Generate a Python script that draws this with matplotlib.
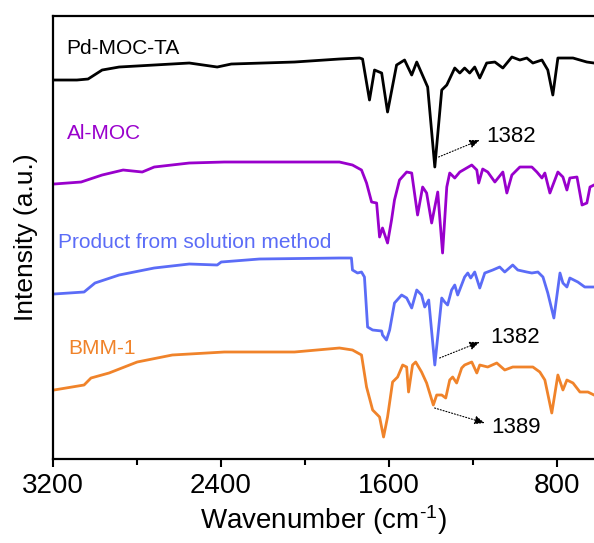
import matplotlib
matplotlib.use("Agg")
import matplotlib.pyplot as plt
from matplotlib.ticker import MultipleLocator

plt.rcParams['font.family'] = ['Liberation Sans', 'DejaVu Sans']
plt.rcParams['mathtext.default'] = 'regular'

# FTIR spectra, stacked (a.u.)
wn_pd = [3195, 3086, 3033, 2966, 2885, 2718, 2551, 2418, 2351, 2050, 1836, 1740, 1726, 1693, 1669,
         1635, 1607, 1564, 1526, 1492, 1468, 1416, 1382, 1349, 1325, 1287, 1263, 1240, 1216, 1192,
         1168, 1135, 1096, 1058, 1015, 977, 944, 915, 872, 844, 820, 796, 724, 658, 624]
pd_mic = [3.79, 3.79, 3.80, 3.89, 3.92, 3.94, 3.96, 3.92, 3.95, 3.97, 4.00, 4.01, 4.00, 3.59, 3.89,
          3.86, 3.47, 3.94, 3.99, 3.84, 3.97, 3.72, 2.92, 3.69, 3.74, 3.91, 3.86, 3.91, 3.86, 3.92,
          3.81, 3.96, 3.97, 3.91, 4.02, 3.99, 4.01, 3.96, 3.99, 3.89, 3.64, 4.01, 4.01, 3.97, 3.96]

wn_al = [3195, 3066, 2966, 2866, 2775, 2718, 2551, 2384, 2050, 1836, 1774, 1731, 1707, 1683, 1659,
         1645, 1631, 1607, 1588, 1574, 1550, 1516, 1492, 1464, 1440, 1421, 1397, 1368, 1345, 1325,
         1311, 1287, 1263, 1206, 1182, 1173, 1154, 1130, 1096, 1058, 1039, 1015, 977, 920, 896,
         872, 858, 834, 796, 772, 753, 739, 705, 681, 658, 643, 624]
al_moc = [2.75, 2.77, 2.84, 2.89, 2.87, 2.92, 2.96, 2.97, 2.97, 2.97, 2.94, 2.89, 2.76, 2.57, 2.56,
          2.22, 2.31, 2.16, 2.39, 2.59, 2.79, 2.87, 2.86, 2.44, 2.72, 2.66, 2.36, 2.67, 2.06, 2.72,
          2.86, 2.81, 2.87, 2.94, 2.89, 2.76, 2.90, 2.87, 2.77, 2.87, 2.66, 2.84, 2.92, 2.92, 2.87,
          2.81, 2.86, 2.66, 2.87, 2.82, 2.69, 2.81, 2.82, 2.54, 2.56, 2.72, 2.74]

wn_sol = [3195, 3052, 3000, 2885, 2718, 2551, 2418, 2399, 2217, 1836, 1779, 1774, 1750, 1731, 1717,
          1702, 1678, 1635, 1631, 1612, 1597, 1574, 1540, 1516, 1492, 1468, 1445, 1430, 1411, 1382,
          1349, 1335, 1321, 1302, 1287, 1273, 1240, 1225, 1211, 1192, 1168, 1144, 1106, 1073, 1049,
          1011, 987, 944, 920, 891, 867, 844, 815, 786, 772, 753, 739, 701, 668, 624]
solution = [1.65, 1.67, 1.76, 1.84, 1.91, 1.95, 1.94, 1.97, 2.00, 2.01, 2.01, 1.89, 1.86, 1.87, 1.82,
            1.32, 1.29, 1.28, 1.24, 1.19, 1.29, 1.56, 1.64, 1.61, 1.51, 1.69, 1.64, 1.52, 1.59, 0.94,
            1.61, 1.57, 1.54, 1.69, 1.74, 1.64, 1.82, 1.86, 1.81, 1.87, 1.71, 1.86, 1.89, 1.92, 1.87,
            1.94, 1.89, 1.87, 1.86, 1.87, 1.82, 1.66, 1.41, 1.86, 1.76, 1.72, 1.81, 1.77, 1.72, 1.72]

wn_bmm = [3195, 3052, 3019, 2933, 2799, 2632, 2384, 2050, 1836, 1774, 1731, 1707, 1678, 1645, 1626,
          1607, 1583, 1559, 1535, 1516, 1507, 1488, 1473, 1445, 1421, 1389, 1373, 1349, 1330, 1311,
          1297, 1278, 1254, 1240, 1206, 1182, 1168, 1130, 1087, 1049, 1011, 968, 915, 882, 858,
          825, 796, 772, 753, 724, 691, 653, 624]
bmm = [0.69, 0.74, 0.81, 0.86, 0.97, 1.04, 1.07, 1.07, 1.11, 1.09, 1.04, 0.72, 0.49, 0.42, 0.22,
       0.42, 0.77, 0.82, 0.94, 0.92, 0.67, 0.94, 0.97, 0.87, 0.76, 0.54, 0.64, 0.64, 0.61, 0.79,
       0.82, 0.76, 0.91, 0.94, 0.97, 0.86, 0.94, 0.92, 0.96, 0.89, 0.92, 0.92, 0.92, 0.87, 0.79,
       0.46, 0.84, 0.69, 0.79, 0.76, 0.67, 0.67, 0.64]

names = ['Pd-MOC-TA', 'Al-MOC', 'Product from solution method', 'BMM-1']
colors = ['black', '#9900CC', '#5B6CF7', '#F0832A']

fig = plt.figure(figsize=(5.94, 5.43), dpi=100)
ax = fig.add_axes([0.0892, 0.1547, 0.9108, 0.8158])

for x, y, c in zip([wn_pd, wn_al, wn_sol, wn_bmm], [pd_mic, al_moc, solution, bmm], colors):
    ax.plot(x, y, color=c, lw=2.0, solid_joinstyle='round')

# sample names
label_pos = [(3138, 4.11), (3133, 3.26), (3176, 2.17), (3128, 1.11)]
for name, c, (lx, ly) in zip(names, colors, label_pos):
    ax.text(lx, ly, name, color=c, fontsize=15, va='center', ha='left')

# peak annotations (arrow start, arrow end, text)
arrows = [((1364, 3.02), (1168, 3.19), '1382', (1135, 3.23)),
          ((1359, 1.01), (1168, 1.17), '1382', (1120, 1.22)),
          ((1383, 0.51), (1144, 0.36), '1389', (1111, 0.31))]
for start, end, txt, tpos in arrows:
    ax.annotate('', xy=end, xytext=start,
                arrowprops=dict(arrowstyle='-|>,head_length=0.6,head_width=0.25',
                                color='black', lw=0.8, ls=':', shrinkA=0, shrinkB=0))
    ax.text(tpos[0], tpos[1], txt, fontsize=16, va='center', ha='left')

ax.set_xlim(3200, 624)
ax.set_ylim(0, 4.43)
ax.xaxis.set_major_locator(MultipleLocator(800))
ax.xaxis.set_minor_locator(MultipleLocator(400))
ax.set_yticks([])
ax.tick_params(axis='x', which='major', direction='out', length=6, width=1.5, labelsize=20, pad=4)
ax.tick_params(axis='x', which='minor', direction='out', length=4, width=1.5)
for s in ['left', 'bottom', 'top']:
    ax.spines[s].set_linewidth(1.6)
ax.spines['right'].set_visible(False)

ax.set_xlabel('Wavenumber (cm$^{\u20101}$)', fontsize=20, labelpad=3)
ax.set_ylabel('Intensity (a.u.)', fontsize=19, labelpad=11)

fig.savefig('out.png', dpi=100)
